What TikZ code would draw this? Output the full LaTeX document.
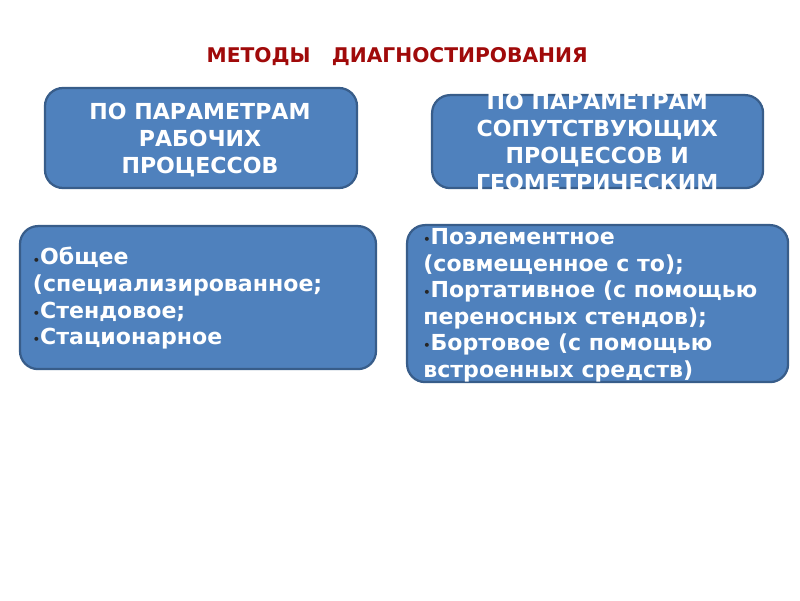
\documentclass[tikz,border=0pt]{standalone}
\usepackage{fontspec}
\setmainfont{DejaVu Sans}
\usetikzlibrary{positioning}

\definecolor{boxfill}{RGB}{79,129,189}
\definecolor{boxline}{RGB}{56,93,138}
\definecolor{titlered}{RGB}{160,10,10}

\newcommand{\itemdot}{{\color{black!85}\footnotesize\raisebox{0.15ex}{•}}}

\begin{document}
\begin{tikzpicture}[%
    box/.style={draw=boxline, line width=1.6pt, fill=boxfill,
      rounded corners=0.45cm, inner sep=0pt},
    head/.style={text=white, font=\bfseries\fontsize{15.7}{19.2}\selectfont,
      align=center},
    items/.style={text=white, font=\bfseries\fontsize{15.7}{18.9}\selectfont,
      align=left, anchor=west}
  ]

  \useasboundingbox (0,0) rectangle (20,15);

  \node[text=titlered, font=\bfseries\fontsize{14.4}{17}\selectfont] (title)
    at (9.93,13.58) {МЕТОДЫ \ \ ДИАГНОСТИРОВАНИЯ};

  \node[box, minimum width=7.8cm, minimum height=2.5cm] (work) at (5.025,11.55) {};
  \node[box, minimum width=8.275cm, minimum height=2.325cm] (side) at (14.94,11.46) {};
  \node[box, minimum width=8.9cm, minimum height=3.575cm] (left) at (4.95,7.56) {};
  \node[box, minimum width=9.525cm, minimum height=3.925cm] (right) at (14.94,7.41) {};

  \node[head] (workt) at (5.0,11.5) {ПО ПАРАМЕТРАМ\\РАБОЧИХ\\ПРОЦЕССОВ};
  \node[head] (sidet) at (14.93,11.44)
    {ПО ПАРАМЕТРАМ\\СОПУТСТВУЮЩИХ\\ПРОЦЕССОВ И\\ГЕОМЕТРИЧЕСКИМ};

  \node[items] (leftt) at (0.7,7.54)
    {\itemdot Общее\\(специализированное;\\
     \itemdot Стендовое;\\\itemdot Стационарное};
  \node[items] (rightt) at (10.46,7.37)
    {\itemdot Поэлементное\\(совмещенное с то);\\
     \itemdot Портативное (с помощью\\переносных стендов);\\
     \itemdot Бортовое (с помощью\\встроенных средств)};
\end{tikzpicture}
\end{document}
